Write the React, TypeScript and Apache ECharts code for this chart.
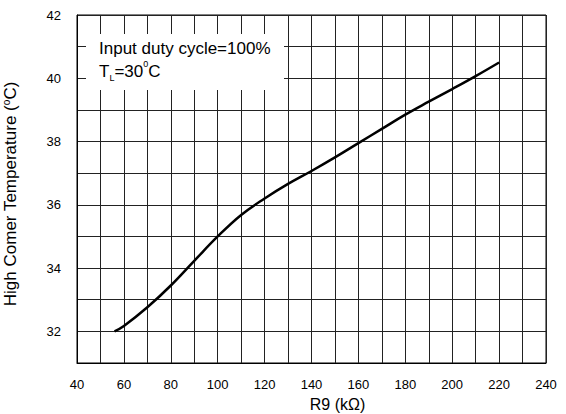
import React, { useEffect, useRef } from "react";
import * as echarts from "echarts";

// R9 resistance (kΩ) and the resulting high corner temperature (°C)
const resistanceK = [56, 60, 70, 80, 90, 100, 110, 120, 130, 140, 150, 160, 170, 180, 190, 200, 210, 220];
const cornerTempC = [32.0, 32.17, 32.76, 33.45, 34.23, 35.0, 35.68, 36.2, 36.66, 37.07, 37.5, 37.95, 38.4, 38.85, 39.26, 39.66, 40.07, 40.5];

// tick labels shown on each axis (grid lines are denser)
const xTickLabels = [40, 60, 80, 100, 120, 140, 160, 180, 200, 220, 240];
const yTickLabels = [32, 34, 36, 38, 40, 42];

const xTitle = "R9 (kΩ)";
const yTitle = "High Comer Temperature ({sup|o}C)";
const noteLine1 = "Input duty cycle=100%";
const noteLine2 = "T{sub|L}=30{sup|0}C";

const FONT = '"Liberation Sans", Arial, sans-serif';

export default function App() {
  const ref = useRef<HTMLDivElement>(null);

  useEffect(() => {
    document.body.style.margin = "0";
    const chart = echarts.init(ref.current!, null, { renderer: "svg" });
    const gridColor = "#222";
    chart.setOption({
      animation: false,
      backgroundColor: "#fff",
      grid: {
        left: 77,
        right: 20,
        top: 15,
        bottom: 51,
        containLabel: false,
        outerBoundsMode: "none",
        show: true,
        borderColor: "#000",
        borderWidth: 1,
        backgroundColor: "transparent",
      },
      xAxis: {
        type: "value",
        min: 40,
        max: 240,
        interval: 10,
        axisLine: { show: true, lineStyle: { color: "#000", width: 1 } },
        axisTick: { show: false },
        splitLine: { show: true, lineStyle: { color: gridColor, width: 1 } },
        axisLabel: {
          margin: 15,
          color: "#000",
          fontSize: 13,
          fontFamily: FONT,
          formatter: (v: number) => (xTickLabels.includes(v) ? String(v) : ""),
        },
        name: xTitle,
        nameLocation: "middle",
        nameGap: 33,
        nameTextStyle: {
          color: "#000",
          fontSize: 16,
          fontFamily: FONT,
          padding: [0, 0, 0, 52],
        },
      },
      yAxis: {
        type: "value",
        min: 31,
        max: 42,
        interval: 1,
        axisLine: { show: true, lineStyle: { color: "#000", width: 1 } },
        axisTick: { show: false },
        splitLine: { show: true, lineStyle: { color: gridColor, width: 1 } },
        axisLabel: {
          margin: 16,
          color: "#000",
          fontSize: 13,
          fontFamily: FONT,
          formatter: (v: number) => (yTickLabels.includes(v) ? String(v) : ""),
        },
        name: yTitle,
        nameLocation: "middle",
        nameRotate: 90,
        nameGap: 57,
        nameTextStyle: {
          color: "#000",
          fontSize: 17,
          lineHeight: 19,
          fontFamily: FONT,
          padding: [0, 10, 0, 0],
          rich: {
            sup: { fontSize: 10, lineHeight: 13, verticalAlign: "top", color: "#000", fontFamily: FONT },
          },
        },
      },
      series: [
        {
          type: "line",
          data: resistanceK.map((x, i) => [x, cornerTempC[i]]),
          smooth: 0.4,
          showSymbol: false,
          symbol: "none",
          lineStyle: { color: "#000", width: 2.5 },
          z: 5,
        },
      ],
      graphic: [
        {
          type: "rect",
          z: 50,
          shape: { x: 86, y: 34, width: 198, height: 56 },
          style: { fill: "#fff" },
        },
        {
          type: "text",
          z: 51,
          x: 99,
          y: 36.6,
          style: {
            text: noteLine1 + "\n" + noteLine2,
            font: '17px "Liberation Sans", Arial, sans-serif',
            fill: "#000",
            lineHeight: 23,
            align: "left",
            verticalAlign: "top",
            rich: {
              sub: { font: '9px "Liberation Sans", Arial, sans-serif', fill: "#000", lineHeight: 6, verticalAlign: "bottom" },
              sup: { font: '9px "Liberation Sans", Arial, sans-serif', fill: "#000", lineHeight: 17, verticalAlign: "top" },
            },
          },
        },
      ],
    });
    return () => chart.dispose();
  }, []);

  return <div ref={ref} style={{ width: 566, height: 414 }} />;
}
